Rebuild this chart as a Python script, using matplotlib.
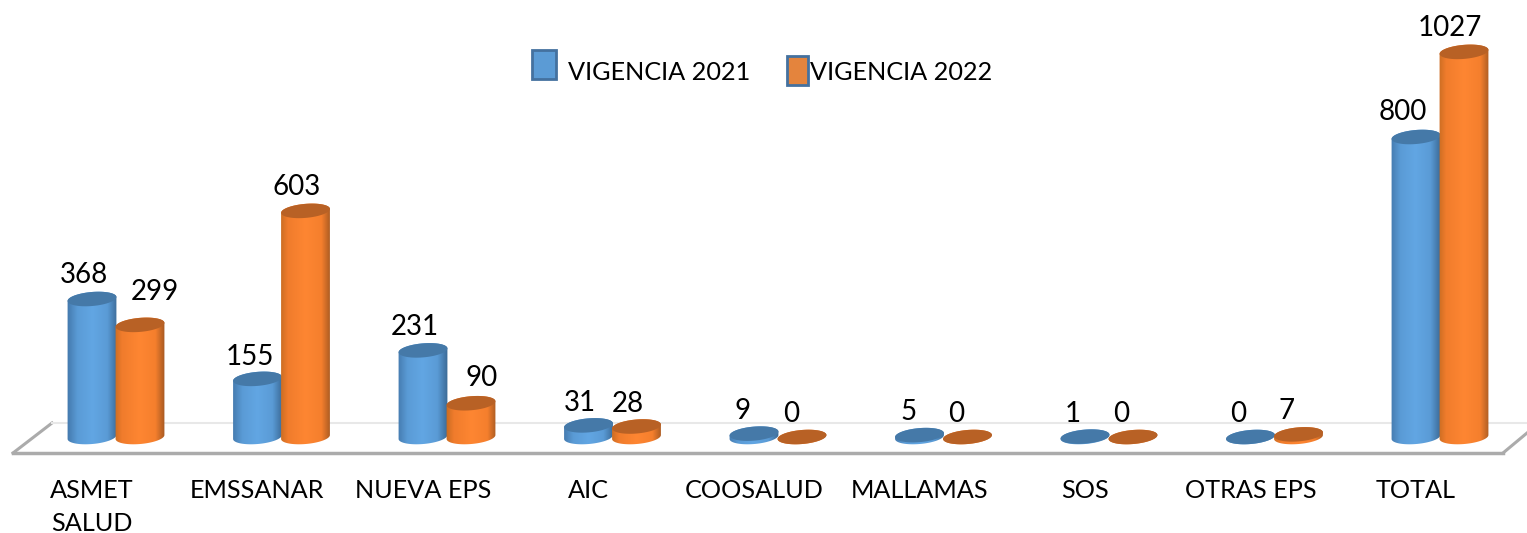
import numpy as np
import matplotlib
matplotlib.use('Agg')
import matplotlib.pyplot as plt
from matplotlib.colors import LinearSegmentedColormap
from matplotlib.lines import Line2D
from matplotlib.patches import PathPatch, Polygon, Rectangle
from matplotlib.path import Path

categories = ['ASMET\nSALUD', 'EMSSANAR', 'NUEVA EPS', 'AIC', 'COOSALUD',
              'MALLAMAS', 'SOS', 'OTRAS EPS', 'TOTAL']
vigencia_2021 = [368, 155, 231, 31, 9, 5, 1, 0, 800]
vigencia_2022 = [299, 603, 90, 28, 0, 0, 0, 7, 1027]
series_names = ['VIGENCIA 2021', 'VIGENCIA 2022']

# label nudges in pixels from the top of each bar
dx_2021 = [-8, -8, -8, -9, -11, -11, -12, -12, -13]
dy_2021 = [24, 22, 23, 22, 23, 23, 23, 23, 25]
dx_2022 = [15, -9, 11, -9, -11, -11, -12, -12, -14]
dy_2022 = [33, 24, 25, 22, 23, 23, 23, 23, 24]

W, H = 1527, 533
PX_PER_UNIT = 0.375
GROUP_PX = 165.5
BASE_PX = 437
FLOOR_PX = 453
HALF_W = 24.5
HALF_H = 7.0
TILT = np.radians(5)
FONT = 'Lato'
NUM_SIZE = 20
TEXT_SIZE = 18.2

plt.rcParams['font.family'] = [FONT, 'DejaVu Sans']

fig = plt.figure(figsize=(W / 100, H / 100), dpi=100)
ax = fig.add_axes([0, (H - FLOOR_PX) / H, 1, FLOOR_PX / H])
xlim = (-116 / GROUP_PX, (W - 116) / GROUP_PX)
ylim = ((BASE_PX - FLOOR_PX) / PX_PER_UNIT, BASE_PX / PX_PER_UNIT)


def fig_px(x, y):
    # reference pixels (y down) to figure fraction
    return x / W, 1 - y / H


def ellipse(cx, value, t):
    # tilted ellipse around a bar end, in data coordinates
    ex = HALF_W * np.cos(t) * np.cos(TILT) - HALF_H * np.sin(t) * np.sin(TILT)
    ey = HALF_W * np.cos(t) * np.sin(TILT) + HALF_H * np.sin(t) * np.cos(TILT)
    return np.column_stack([cx + ex / GROUP_PX, value + ey / PX_PER_UNIT])


def cylinder(rect, cmap, top_color, z):
    cx = rect.get_x() + rect.get_width() / 2
    value = rect.get_height()
    lower = ellipse(cx, 0, np.linspace(np.pi, 2 * np.pi, 40))
    upper = ellipse(cx, value, np.linspace(0, np.pi, 40))
    verts = np.vstack([lower, upper, lower[:1]])
    body = PathPatch(Path(verts), fc='none', ec='none', zorder=z)
    ax.add_patch(body)
    half = (HALF_W + 1) / GROUP_PX
    img = ax.imshow(np.linspace(0, 1, 64)[None, :], cmap=cmap, aspect='auto',
                    extent=(cx - half, cx + half, ylim[0], ylim[1]), zorder=z)
    img.set_clip_path(body)
    ax.add_patch(Polygon(ellipse(cx, value, np.linspace(0, 2 * np.pi, 60)),
                         fc=top_color, ec='none', zorder=z + 0.5))


blue_cmap = LinearSegmentedColormap.from_list(
    'blue', [(0, '#4479ad'), (0.2, '#5a9bd6'), (0.5, '#62a6e3'), (0.8, '#5a9bd6'), (1, '#3b6a96')])
orange_cmap = LinearSegmentedColormap.from_list(
    'orange', [(0, '#c96c22'), (0.15, '#f07c2c'), (0.5, '#fe8632'), (0.82, '#f57f2d'), (1, '#a85a22')])

x = np.arange(len(categories))
offset = 24 / GROUP_PX
width = 2 * HALF_W / GROUP_PX

bars_2021 = ax.bar(x - offset, vigencia_2021, width, color='none')
bars_2022 = ax.bar(x + offset, vigencia_2022, width, color='none')

for i in x:
    cylinder(bars_2021[i], blue_cmap, '#4579a8', 3 + 2 * i)
    cylinder(bars_2022[i], orange_cmap, '#b86125', 4 + 2 * i)

for bars, values, dxs, dys, z in [(bars_2021, vigencia_2021, dx_2021, dy_2021, 40),
                                  (bars_2022, vigencia_2022, dx_2022, dy_2022, 41)]:
    for rect, v, dx, dy in zip(bars, values, dxs, dys):
        ax.annotate(str(v), (rect.get_x() + rect.get_width() / 2, v),
                    xytext=(dx, dy), textcoords='offset pixels', ha='center',
                    va='center', fontsize=NUM_SIZE, color='black', zorder=z)

ax.set_xlim(xlim)
ax.set_ylim(ylim)
ax.set_xticks(x - offset)
ax.set_xticklabels(categories, fontsize=TEXT_SIZE, color='black', linespacing=1.53)
ax.tick_params(axis='x', length=0, pad=19)
ax.set_yticks([])
for s in ax.spines.values():
    s.set_visible(False)
ax.patch.set_alpha(0)

# floor of the 3D box
floor = [([13, 1503], [453, 453], '#ababab', 2.5),
         ([13, 52], [453, 423], '#ababab', 2.2),
         ([1503, 1527], [453, 433], '#ababab', 2.2),
         ([52, 1527], [423, 423], '#e8e8e8', 1.5)]
for xs, ys, col, lw in floor:
    fx, fy = fig_px(np.array(xs), np.array(ys))
    ln = Line2D(fx, fy, color=col, lw=lw, transform=fig.transFigure, zorder=1)
    fig.add_artist(ln)
    ln.set_zorder(-1)

# legend, the two swatches do not line up in the original
swatches = [(532, 50, 24, 29, '#5b9bd5', '#44719f', 568),
            (787, 56, 21, 29, '#e4843d', '#44719f', 810)]
for (sx, sy, sw, sh, fc, ec, tx), name in zip(swatches, series_names):
    fx, fy = fig_px(sx, sy + sh)
    fig.add_artist(Rectangle((fx, fy), sw / W, sh / H, fc=fc, ec=ec, lw=2,
                             transform=fig.transFigure))
    fig.text(tx / W, 1 - 72 / H, name, fontsize=TEXT_SIZE, color='black',
             va='center', ha='left')

fig.savefig('out.png', dpi=100)
